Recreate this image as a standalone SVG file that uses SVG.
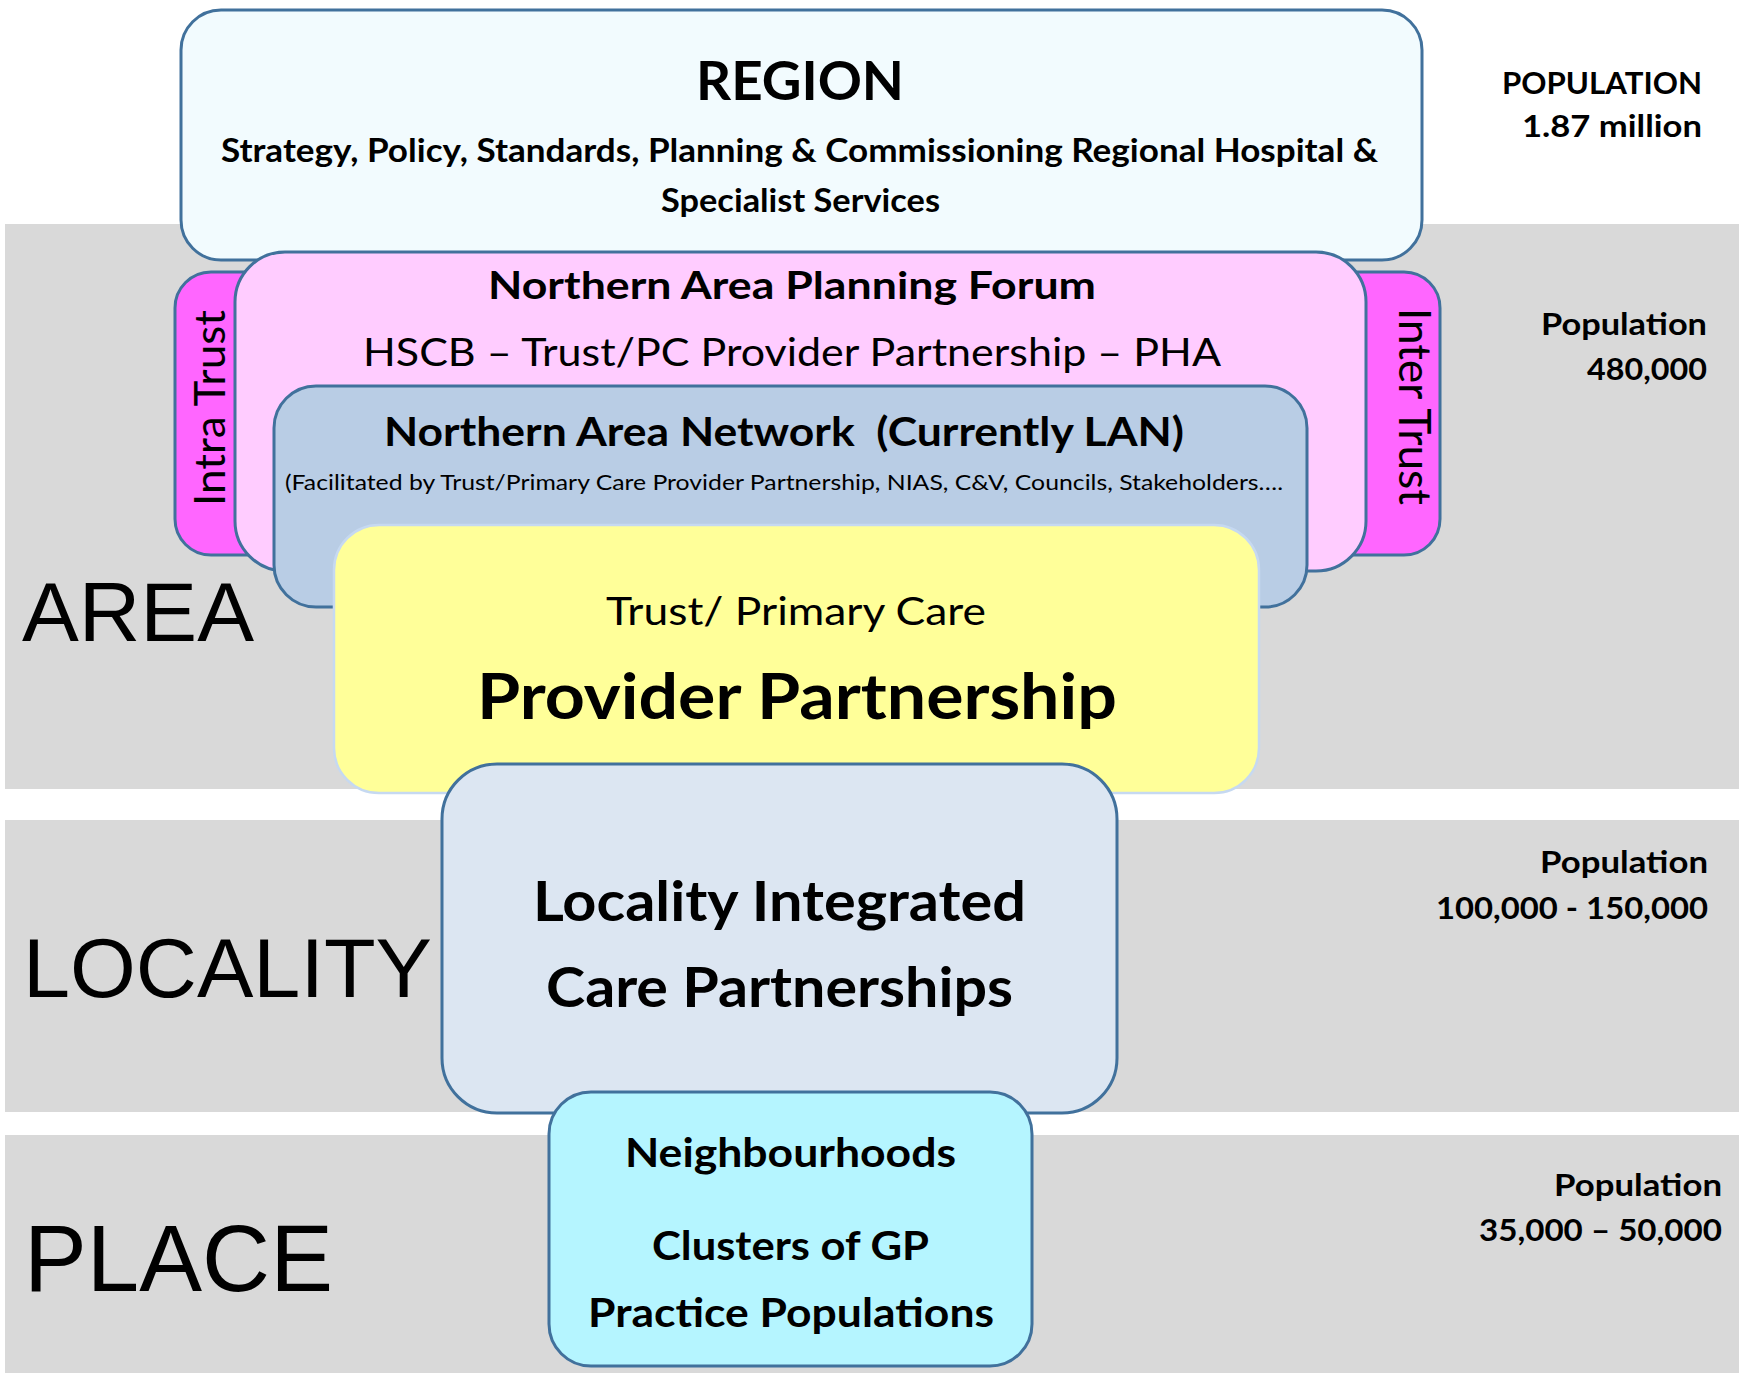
<svg xmlns="http://www.w3.org/2000/svg" width="1739" height="1373" viewBox="0 0 1739 1373">
<style>
.box{stroke:#41719C;stroke-width:3}
.b{font-family:Lato,"Open Sans","Liberation Sans",sans-serif;font-weight:bold;fill:#000}
.r{font-family:Lato,"Open Sans","Liberation Sans",sans-serif;font-weight:normal;fill:#000}
.big{font-family:"Liberation Sans",Arial,sans-serif;fill:#000}
</style>
<rect width="1739" height="1373" fill="#FFFFFF"/>
<g id="bands">
<rect x="5" y="224" width="1734" height="565" fill="#D9D9D9"/>
<rect x="5" y="820" width="1734" height="292" fill="#D9D9D9"/>
<rect x="5" y="1135" width="1734" height="238" fill="#D9D9D9"/>
<text class="big" x="22" y="641" font-size="84" textLength="232" lengthAdjust="spacingAndGlyphs">AREA</text>
<text class="big" x="23" y="997" font-size="84" textLength="409" lengthAdjust="spacingAndGlyphs">LOCALITY</text>
<text class="big" x="24" y="1291" font-size="94" textLength="309" lengthAdjust="spacingAndGlyphs">PLACE</text>
</g>
<g id="populations">
<text class="b" x="1502" y="94" font-size="31" textLength="200" lengthAdjust="spacingAndGlyphs">POPULATION</text>
<text class="b" x="1522" y="137" font-size="31" textLength="180" lengthAdjust="spacingAndGlyphs">1.87 million</text>
<text class="b" x="1541" y="335" font-size="31" textLength="166" lengthAdjust="spacingAndGlyphs">Population</text>
<text class="b" x="1587" y="380" font-size="31" textLength="120" lengthAdjust="spacingAndGlyphs">480,000</text>
<text class="b" x="1540" y="873" font-size="31" textLength="168" lengthAdjust="spacingAndGlyphs">Population</text>
<text class="b" x="1436" y="919" font-size="31" textLength="272" lengthAdjust="spacingAndGlyphs">100,000 - 150,000</text>
<text class="b" x="1554" y="1196" font-size="31" textLength="168" lengthAdjust="spacingAndGlyphs">Population</text>
<text class="b" x="1479" y="1241" font-size="31" textLength="243" lengthAdjust="spacingAndGlyphs">35,000 – 50,000</text>
</g>
<g id="region">
<rect class="box" x="181" y="10" width="1241" height="250" rx="40" fill="#F2FBFE"/>
<text class="b" x="696" y="100" font-size="53" textLength="208" lengthAdjust="spacingAndGlyphs">REGION</text>
<text class="b" x="221" y="162" font-size="32" textLength="1157" lengthAdjust="spacingAndGlyphs">Strategy, Policy, Standards, Planning &amp; Commissioning Regional Hospital &amp;</text>
<text class="b" x="661" y="212" font-size="32" textLength="279" lengthAdjust="spacingAndGlyphs">Specialist Services</text>
</g>
<g id="intra-trust">
<rect class="box" x="175" y="272" width="150" height="283" rx="36" fill="#FF66FF"/>
<text class="r" transform="translate(225,506) rotate(-90)" font-size="42" textLength="196" lengthAdjust="spacingAndGlyphs">Intra Trust</text>
</g>
<g id="inter-trust">
<rect class="box" x="1290" y="272" width="150" height="283" rx="36" fill="#FF66FF"/>
<text class="r" transform="translate(1399,308) rotate(90)" font-size="44" textLength="197" lengthAdjust="spacingAndGlyphs">Inter Trust</text>
</g>
<g id="planning-forum">
<rect class="box" x="235" y="252" width="1131" height="319" rx="50" fill="#FFCCFF"/>
<text class="b" x="488" y="299" font-size="38" textLength="608" lengthAdjust="spacingAndGlyphs">Northern Area Planning Forum</text>
<text class="r" x="363" y="366" font-size="39" textLength="858" lengthAdjust="spacingAndGlyphs">HSCB – Trust/PC Provider Partnership – PHA</text>
</g>
<g id="area-network">
<rect class="box" x="274" y="386" width="1033" height="221" rx="42" fill="#B9CDE5"/>
<text class="b" x="384" y="446" font-size="40" textLength="800" lengthAdjust="spacingAndGlyphs">Northern Area Network &#160;(Currently LAN)</text>
<text class="r" x="285" y="490" font-size="22" textLength="998" lengthAdjust="spacingAndGlyphs">(Facilitated by Trust/Primary Care Provider Partnership, NIAS, C&amp;V, Councils, Stakeholders….</text>
</g>
<g id="provider-partnership">
<rect x="334" y="525" width="925" height="268" rx="45" fill="#FFFF99" stroke="#C6D9F1" stroke-width="2.5"/>
<text class="r" x="606" y="625" font-size="38" textLength="380" lengthAdjust="spacingAndGlyphs">Trust/ Primary Care</text>
<text class="b" x="477" y="719" font-size="64" textLength="640" lengthAdjust="spacingAndGlyphs">Provider Partnership</text>
</g>
<g id="locality">
<rect class="box" x="442" y="764" width="675" height="349" rx="55" fill="#DCE6F2"/>
<text class="b" x="533" y="921" font-size="56" textLength="493" lengthAdjust="spacingAndGlyphs">Locality Integrated</text>
<text class="b" x="546" y="1007" font-size="56" textLength="467" lengthAdjust="spacingAndGlyphs">Care Partnerships</text>
</g>
<g id="neighbourhoods">
<rect class="box" x="549" y="1092" width="483" height="274" rx="42" fill="#B5F5FF"/>
<text class="b" x="625" y="1167" font-size="40" textLength="331" lengthAdjust="spacingAndGlyphs">Neighbourhoods</text>
<text class="b" x="652" y="1260" font-size="40" textLength="277" lengthAdjust="spacingAndGlyphs">Clusters of GP</text>
<text class="b" x="588" y="1327" font-size="40" textLength="406" lengthAdjust="spacingAndGlyphs">Practice Populations</text>
</g>
<g id="connectors"></g>
</svg>
